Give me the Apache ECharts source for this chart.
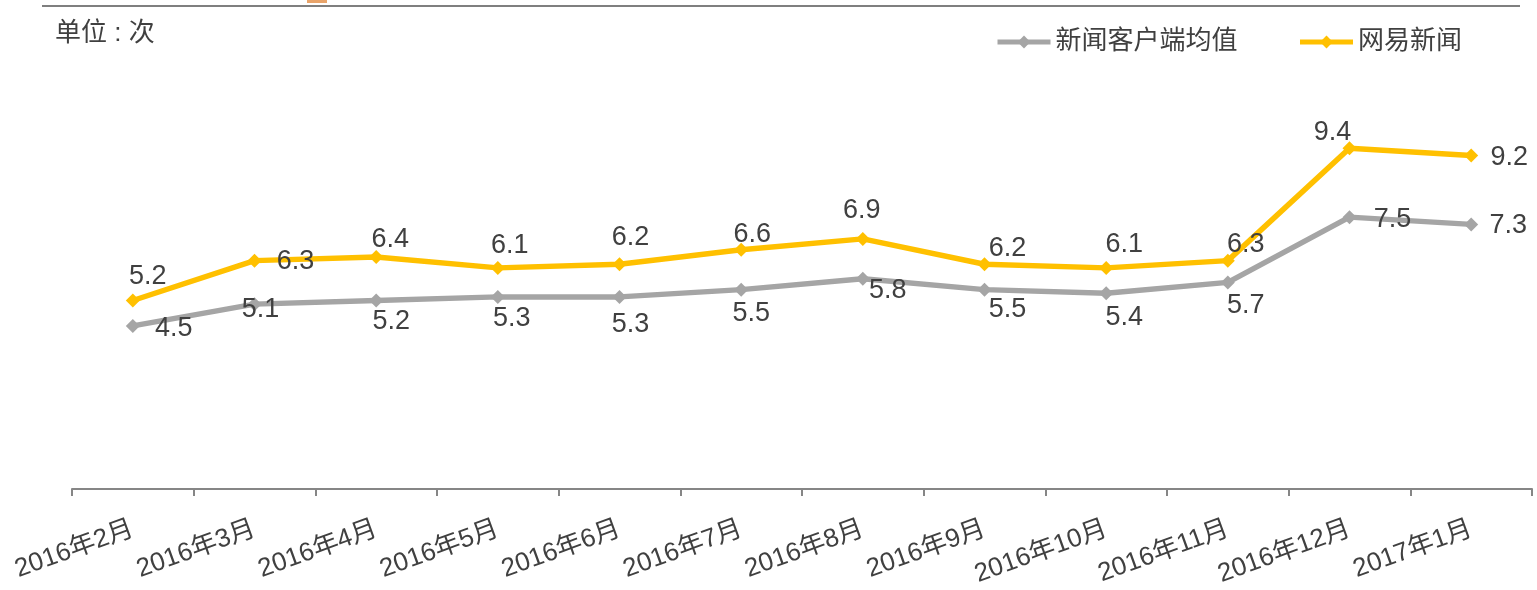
<!DOCTYPE html>
<html><head><meta charset="utf-8">
<script src="https://cdn.jsdelivr.net/npm/echarts@6/dist/echarts.min.js"></script>
<style>html,body{margin:0;padding:0;background:#fff}#c{width:1537px;height:590px}</style>
</head><body><div id="c"></div>
<script>
const categories = ['2016年2月','2016年3月','2016年4月','2016年5月','2016年6月','2016年7月','2016年8月','2016年9月','2016年10月','2016年11月','2016年12月','2017年1月'];
const avgValues = [4.5,5.1,5.2,5.3,5.3,5.5,5.8,5.5,5.4,5.7,7.5,7.3];
const neteaseValues = [5.2,6.3,6.4,6.1,6.2,6.6,6.9,6.2,6.1,6.3,9.4,9.2];
const seriesNames = ['新闻客户端均值','网易新闻'];
const unitText = '单位 : 次';

// label placement (layout only)
const avgLabelOffsets = [[41,3],[6,5],[15,21],[14,22],[11,28],[10,24],[25,12],[23,20],[18,24],[18,23],[43,2],[37,1]];
const neteaseLabelOffsets = [[15,-24],[41,1],[14,-17],[12,-22],[11,-27],[11,-15],[-1,-28],[23,-16],[18,-23],[18,-16],[-17,-16],[38,2]];

const FONT = '"Liberation Sans", Arial, "Noto Sans CJK SC", sans-serif';
const TXT = '#404040';

function build(values, offsets) {
  return values.map((v, i) => ({ value: v, label: { offset: offsets[i] } }));
}

const chart = echarts.init(document.getElementById('c'), null, { renderer: 'canvas' });
chart.setOption({
  animation: false,
  textStyle: { fontFamily: FONT },
  grid: { left: 72, right: 5, top: 54, bottom: 101 },
  legend: {
    left: 995, top: 29, padding: 0,
    itemWidth: 53, itemHeight: 16, itemGap: 60,
    lineStyle: { width: 5 },
    textStyle: { fontSize: 26, color: TXT, fontFamily: FONT },
    data: seriesNames
  },
  graphic: [
    { type: 'line', shape: { x1: 42, y1: 6, x2: 1520, y2: 6 }, style: { stroke: '#7f7f7f', lineWidth: 2 } },
    { type: 'rect', shape: { x: 307, y: 0, width: 20, height: 3 }, style: { fill: '#E9A46A' } },
    { type: 'text', left: 55, top: 21, style: { text: unitText, fontSize: 26, fill: TXT, fontFamily: FONT } }
  ],
  xAxis: {
    type: 'category',
    data: categories,
    boundaryGap: true,
    axisLine: { show: true, lineStyle: { color: '#868686', width: 2 } },
    axisTick: { show: true, length: 7, lineStyle: { color: '#868686', width: 2 } },
    axisLabel: { rotate: 20, fontSize: 26, color: TXT, margin: 39, interval: 0, fontFamily: FONT }
  },
  yAxis: { type: 'value', min: 0, max: 12, show: false, splitLine: { show: false } },
  series: [
    {
      name: seriesNames[0], type: 'line', data: build(avgValues, avgLabelOffsets),
      symbol: 'diamond', symbolSize: 14,
      itemStyle: { color: '#A5A5A5' },
      lineStyle: { color: '#A5A5A5', width: 5.5 },
      label: { show: true, position: 'inside', fontSize: 27, color: TXT, fontFamily: FONT,
        formatter: p => p.value.toFixed(1) }
    },
    {
      name: seriesNames[1], type: 'line', data: build(neteaseValues, neteaseLabelOffsets),
      symbol: 'diamond', symbolSize: 14,
      itemStyle: { color: '#FFC000' },
      lineStyle: { color: '#FFC000', width: 5.5 },
      label: { show: true, position: 'inside', fontSize: 27, color: TXT, fontFamily: FONT,
        formatter: p => p.value.toFixed(1) }
    }
  ]
});
</script></body></html>
